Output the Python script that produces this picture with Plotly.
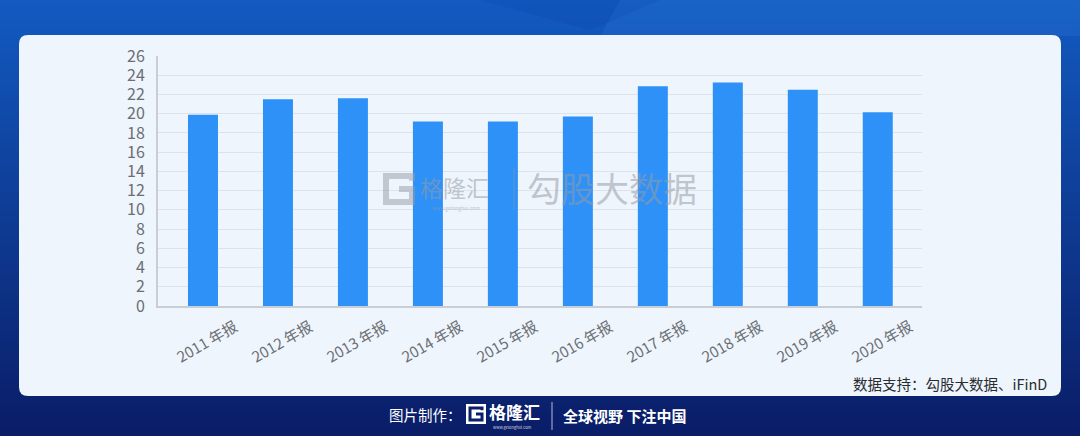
import plotly.graph_objects as go

# ---- data ----
categories = ["2011 年报", "2012 年报", "2013 年报", "2014 年报", "2015 年报",
              "2016 年报", "2017 年报", "2018 年报", "2019 年报", "2020 年报"]
values = [19.9, 21.5, 21.6, 19.2, 19.2, 19.7, 22.85, 23.25, 22.5, 20.15]
y_ticks = list(range(0, 27, 2))

W, H = 1080, 436
ML, MR, MT, MB = 158, 158, 56, 130
PW, PH = W - ML - MR, H - MT - MB
FONT = "Noto Sans CJK SC"


def px(x):
    return (x - ML) / PW


def py(y):
    return (H - MB - y) / PH


def lerp(c1, c2, t):
    return "rgb(%d,%d,%d)" % tuple(round(a + (b - a) * t) for a, b in zip(c1, c2))


shapes = []
# background gradient strips
top_c, bot_c = (18, 90, 192), (10, 28, 102)
step = 6
for y0 in range(0, H, step):
    t = y0 / H
    shapes.append(dict(type="rect", xref="paper", yref="paper", layer="below",
                       x0=px(-2), x1=px(W + 2), y0=py(y0), y1=py(y0 + step + 1),
                       line=dict(width=0), fillcolor=lerp(top_c, bot_c, t)))
# subtle facets at top
shapes.append(dict(type="path", xref="paper", yref="paper", layer="below",
                   path="M %f %f L %f %f L %f %f L %f %f Z" % (
                       px(620), py(0), px(W), py(0), px(W), py(36), px(600), py(36)),
                   line=dict(width=0), fillcolor="rgba(60,140,230,0.18)"))
shapes.append(dict(type="path", xref="paper", yref="paper", layer="below",
                   path="M %f %f L %f %f L %f %f Z" % (
                       px(480), py(0), px(660), py(0), px(590), py(30)),
                   line=dict(width=0), fillcolor="rgba(5,50,160,0.12)"))

# card with rounded corners
cx0, cx1, cy0, cy1, r = 19, 1061, 35, 396, 9
path = (f"M {px(cx0 + r)} {py(cy0)} L {px(cx1 - r)} {py(cy0)} "
        f"Q {px(cx1)} {py(cy0)} {px(cx1)} {py(cy0 + r)} "
        f"L {px(cx1)} {py(cy1 - r)} Q {px(cx1)} {py(cy1)} {px(cx1 - r)} {py(cy1)} "
        f"L {px(cx0 + r)} {py(cy1)} Q {px(cx0)} {py(cy1)} {px(cx0)} {py(cy1 - r)} "
        f"L {px(cx0)} {py(cy0 + r)} Q {px(cx0)} {py(cy0)} {px(cx0 + r)} {py(cy0)} Z")
shapes.append(dict(type="path", xref="paper", yref="paper", layer="below",
                   path=path, line=dict(width=0), fillcolor="#EEF5FC"))


def g_logo(x0, y0, size, color, width, layer):
    # simple square "G" glyph
    x1, y1 = x0 + size, y0 + size
    m = y0 + size * 0.5
    p = (f"M {px(x1)} {py(y0 + size*0.18)} L {px(x1)} {py(y0)} L {px(x0)} {py(y0)} "
         f"L {px(x0)} {py(y1)} L {px(x1)} {py(y1)} L {px(x1)} {py(m)} L {px(x0 + size*0.5)} {py(m)}")
    return dict(type="path", xref="paper", yref="paper", layer=layer, path=p,
                line=dict(color=color, width=width))


# watermark logo
shapes.append(g_logo(386, 176, 26, "rgba(150,155,165,0.5)", 6, "above"))
shapes.append(dict(type="line", xref="paper", yref="paper", layer="above",
                   x0=px(514), x1=px(514), y0=py(168), y1=py(210),
                   line=dict(color="rgba(150,155,165,0.45)", width=1)))
# footer logo
shapes.append(dict(type="rect", xref="paper", yref="paper", layer="above",
                   x0=px(466), x1=px(486), y0=py(404), y1=py(424),
                   line=dict(width=0), fillcolor="white"))
shapes.append(g_logo(470, 408, 12, "#0B1E6B", 3, "above"))
shapes.append(dict(type="line", xref="paper", yref="paper", layer="above",
                   x0=px(552), x1=px(552), y0=py(402), y1=py(430),
                   line=dict(color="rgba(255,255,255,0.7)", width=1)))

annotations = []
# rotated x labels centered on categories
for c in categories:
    annotations.append(dict(x=c, xref="x", y=py(340), yref="paper", text=c,
                            showarrow=False, textangle=-30, xshift=4,
                            xanchor="center", yanchor="middle",
                            font=dict(family=FONT, size=15, color="#6B6E73")))

annotations += [
    dict(x=px(418), y=py(187), xref="paper", yref="paper", text="格隆汇",
         showarrow=False, xanchor="left", yanchor="middle",
         font=dict(family=FONT, size=23, color="rgba(150,155,165,0.55)")),
    dict(x=px(456), y=py(208), xref="paper", yref="paper", text="www.gelonghui.com",
         showarrow=False, xanchor="center", yanchor="middle",
         font=dict(family=FONT, size=5, color="rgba(150,155,165,0.6)")),
    dict(x=px(525), y=py(187), xref="paper", yref="paper", text="勾股大数据",
         showarrow=False, xanchor="left", yanchor="middle",
         font=dict(family=FONT, size=34, color="rgba(150,155,165,0.55)")),
    dict(x=px(1049), y=py(383), xref="paper", yref="paper",
         text="数据支持：勾股大数据、iFinD", showarrow=False,
         xanchor="right", yanchor="middle",
         font=dict(family=FONT, size=14.5, color="#2A2C30")),
    dict(x=px(464), y=py(414), xref="paper", yref="paper", text="图片制作：",
         showarrow=False, xanchor="right", yanchor="middle",
         font=dict(family=FONT, size=14.5, color="white")),
    dict(x=px(487), y=py(411), xref="paper", yref="paper", text="<b>格隆汇</b>",
         showarrow=False, xanchor="left", yanchor="middle",
         font=dict(family=FONT, size=17, color="white")),
    dict(x=px(512), y=py(427), xref="paper", yref="paper", text="www.gelonghui.com",
         showarrow=False, xanchor="center", yanchor="middle",
         font=dict(family=FONT, size=4, color="rgba(255,255,255,0.8)")),
    dict(x=px(561), y=py(415), xref="paper", yref="paper", text="<b>全球视野 下注中国</b>",
         showarrow=False, xanchor="left", yanchor="middle",
         font=dict(family=FONT, size=15, color="white")),
]

fig = go.Figure(go.Bar(x=categories, y=values, width=0.4,
                       marker=dict(color="#2D91F8", line=dict(width=0))))

fig.update_layout(
    width=W, height=H,
    margin=dict(l=ML, r=MR, t=MT, b=MB),
    paper_bgcolor="#0E3C9A", plot_bgcolor="rgba(0,0,0,0)",
    showlegend=False, shapes=shapes, annotations=annotations,
    font=dict(family=FONT),
    xaxis=dict(type="category", range=[-0.6, 9.59], showticklabels=False,
               showgrid=False, showline=True, linecolor="#C9CED6", linewidth=2,
               ticks="", zeroline=False, fixedrange=True),
    yaxis=dict(range=[0, 26], tickvals=y_ticks, showgrid=True, gridcolor="#DCE3EC",
               gridwidth=1, showline=True, linecolor="#C9CED6", linewidth=2,
               ticks="", zeroline=False, ticklabelstandoff=8,
               tickfont=dict(family=FONT, size=16, color="#6B6E73"), fixedrange=True),
)

fig.write_html("out.html", config={"displayModeBar": False},
               post_script="document.body.style.margin='0';document.body.style.padding='0';")
